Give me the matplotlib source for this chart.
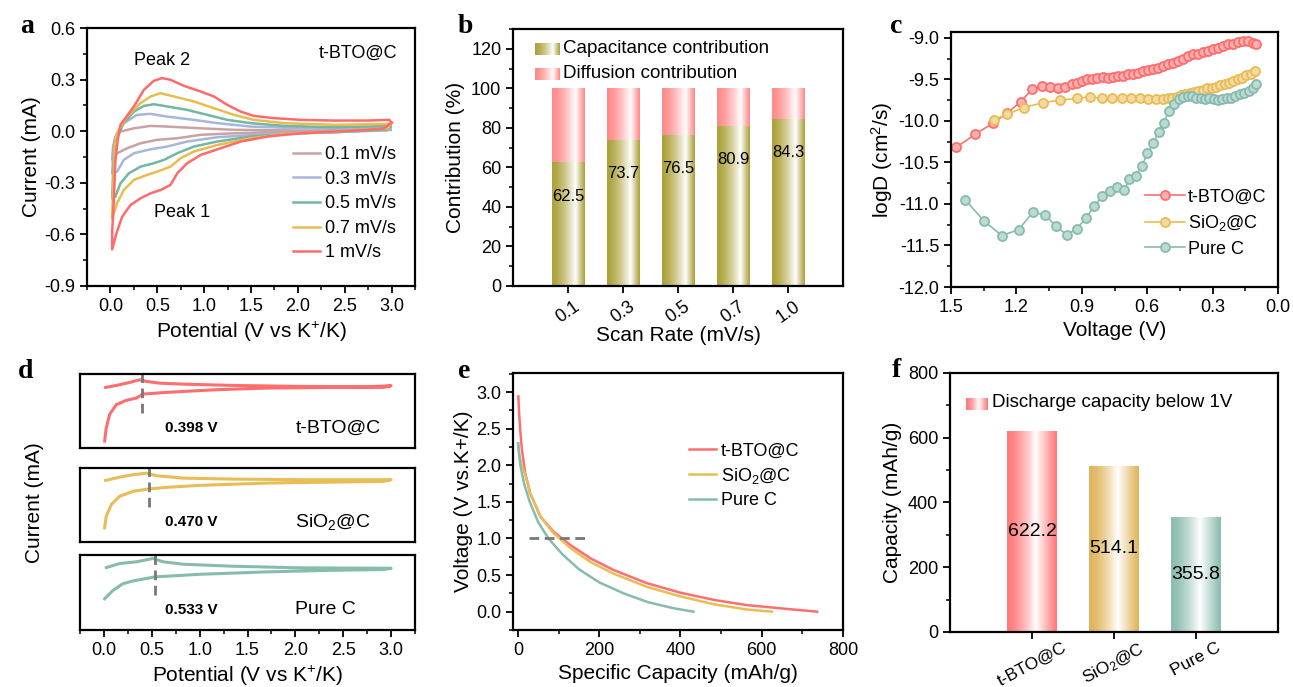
import numpy as np
import matplotlib
matplotlib.use("Agg")
import matplotlib.pyplot as plt
from matplotlib.colors import to_rgb
from matplotlib.ticker import MultipleLocator

plt.rcParams['font.family'] = ['Liberation Sans', 'DejaVu Sans']
plt.rcParams['mathtext.fontset'] = 'custom'
plt.rcParams['mathtext.rm'] = 'Liberation Sans'
plt.rcParams['mathtext.it'] = 'Liberation Sans:italic'
plt.rcParams['axes.unicode_minus'] = False
plt.rcParams['axes.linewidth'] = 1.6
plt.rcParams['xtick.major.width'] = 1.3
plt.rcParams['ytick.major.width'] = 1.3
plt.rcParams['xtick.minor.width'] = 1.1
plt.rcParams['ytick.minor.width'] = 1.1
plt.rcParams['xtick.major.size'] = 5
plt.rcParams['ytick.major.size'] = 5
plt.rcParams['xtick.minor.size'] = 3
plt.rcParams['ytick.minor.size'] = 3
plt.rcParams['xtick.labelsize'] = 13
plt.rcParams['ytick.labelsize'] = 13
plt.rcParams['axes.labelsize'] = 15

RED = '#ff6e6e'
YELLOW = '#e9bc55'
TEAL = '#86bcae'
OLIVE = '#aca23a'
PINK = '#ff8a8a'
CV_COLORS = ['#c9a2a3', '#a6b6dd', '#74b6a4', '#e8bd4f', '#ff6a6a']

# ---- a: CV curves of t-BTO@C at several scan rates (full loops) ----
cv_labels = ['0.1 mV/s', '0.3 mV/s', '0.5 mV/s', '0.7 mV/s', '1 mV/s']

cv_01_v = [2.99, 2.03, 1.318, 0.962, 0.712, 0.499, 0.321, 0.178, 0.071, 0.018,
           0.028, 0.053, 0.107, 0.25, 0.428, 0.605, 0.962, 1.318, 2.03, 2.99]
cv_01_i = [0.008, -0.004, -0.012, -0.021, -0.041, -0.05, -0.07, -0.099, -0.128, -0.167,
           -0.089, -0.04, -0.002, 0.017, 0.031, 0.027, 0.017, 0.008, 0.004, 0.008]

cv_03_v = [2.99, 2.95, 2.387, 1.674, 1.14, 0.819, 0.605, 0.428, 0.25, 0.142, 0.071, 0.018,
           0.028, 0.045, 0.053, 0.142, 0.285, 0.428, 0.605, 0.89, 1.14, 1.496, 2.03, 2.99]
cv_03_i = [0.017, 0.005, -0.006, -0.016, -0.035, -0.06, -0.089, -0.105, -0.128, -0.167, -0.235, -0.245,
           -0.147, -0.05, -0.031, 0.047, 0.095, 0.101, 0.085, 0.066, 0.047, 0.027, 0.017, 0.017]

cv_05_v = [2.99, 2.95, 2.387, 1.85, 1.496, 1.14, 0.89, 0.712, 0.57, 0.463, 0.321, 0.196, 0.107,
           0.053, 0.018, 0.028, 0.045, 0.142, 0.25, 0.356, 0.463, 0.605, 0.819, 1.033, 1.247,
           1.496, 1.85, 2.387, 2.99]
cv_05_i = [0.031, 0.01, -0.006, -0.016, -0.031, -0.06, -0.089, -0.128, -0.167, -0.186, -0.206, -0.245,
           -0.303, -0.38, -0.39, -0.245, -0.06, 0.047, 0.114, 0.147, 0.157, 0.144, 0.124, 0.095,
           0.066, 0.047, 0.031, 0.023, 0.031]

cv_07_v = [2.99, 2.96, 2.39, 1.85, 1.496, 1.14, 0.89, 0.748, 0.641, 0.499, 0.392, 0.25, 0.142,
           0.071, 0.018, 0.028, 0.046, 0.07, 0.178, 0.32, 0.428, 0.534, 0.677, 0.89, 1.104,
           1.318, 1.53, 1.85, 2.387, 2.99]
cv_07_i = [0.043, 0.017, -0.002, -0.016, -0.041, -0.08, -0.118, -0.157, -0.206, -0.235, -0.254,
           -0.283, -0.342, -0.419, -0.506, -0.322, -0.089, -0.01, 0.085, 0.163, 0.202, 0.221,
           0.202, 0.173, 0.134, 0.095, 0.066, 0.047, 0.037, 0.043]

cv_10_v = [3.0, 2.92, 2.74, 2.387, 2.03, 1.674, 1.39, 1.176, 0.962, 0.819, 0.712, 0.641, 0.534,
           0.428, 0.321, 0.214, 0.125, 0.064, 0.018, 0.018, 0.036, 0.053, 0.078, 0.107, 0.178,
           0.25, 0.356, 0.463, 0.552, 0.641, 0.784, 0.962, 1.104, 1.247, 1.39, 1.53, 1.746,
           2.03, 2.387, 2.743, 2.975, 3.0]
cv_10_i = [0.05, 0.017, 0.008, -0.002, -0.012, -0.031, -0.06, -0.099, -0.138, -0.186, -0.245,
           -0.312, -0.342, -0.361, -0.39, -0.429, -0.497, -0.594, -0.687, -0.594, -0.40, -0.167,
           -0.05, 0.037, 0.09, 0.144, 0.24, 0.293, 0.309, 0.299, 0.264, 0.231, 0.202, 0.153,
           0.114, 0.089, 0.076, 0.066, 0.062, 0.062, 0.066, 0.05]

# ---- b: capacitive share at each scan rate ----
scan_rates = ['0.1', '0.3', '0.5', '0.7', '1.0']
cap_share = [62.5, 73.7, 76.5, 80.9, 84.3]

# ---- c: GITT diffusion coefficients ----
bto_v = [1.477, 1.389, 1.309, 1.244, 1.181, 1.128, 1.083, 1.045, 1.010, 0.977,
         0.943, 0.920, 0.897, 0.874, 0.851, 0.828, 0.805, 0.782, 0.759, 0.736,
         0.713, 0.690, 0.667, 0.644, 0.621, 0.598, 0.575, 0.552, 0.529, 0.506,
         0.483, 0.460, 0.437, 0.414, 0.391, 0.368, 0.345, 0.322, 0.299, 0.276,
         0.253, 0.230, 0.207, 0.184, 0.161, 0.138, 0.115, 0.100]
bto_logd = [-10.32, -10.16, -10.03, -9.91, -9.77, -9.62, -9.58, -9.59, -9.60, -9.59,
            -9.56, -9.54, -9.52, -9.50, -9.49, -9.48, -9.47, -9.48, -9.47, -9.46,
            -9.46, -9.44, -9.43, -9.42, -9.40, -9.39, -9.38, -9.36, -9.34, -9.32,
            -9.30, -9.28, -9.25, -9.22, -9.20, -9.19, -9.17, -9.16, -9.14, -9.12,
            -9.10, -9.08, -9.07, -9.05, -9.04, -9.04, -9.06, -9.08]

sio_v = [1.305, 1.244, 1.167, 1.076, 1.000, 0.923, 0.862, 0.809, 0.760, 0.717,
         0.674, 0.633, 0.595, 0.560, 0.526, 0.505, 0.485, 0.465, 0.445, 0.425,
         0.405, 0.385, 0.365, 0.345, 0.325, 0.305, 0.285, 0.265, 0.245, 0.225,
         0.205, 0.185, 0.165, 0.145, 0.125, 0.107]
sio_logd = [-9.99, -9.92, -9.84, -9.78, -9.75, -9.73, -9.71, -9.73, -9.72, -9.73,
            -9.73, -9.73, -9.74, -9.74, -9.74, -9.73, -9.72, -9.71, -9.69, -9.68,
            -9.67, -9.65, -9.64, -9.63, -9.61, -9.60, -9.59, -9.57, -9.56, -9.54,
            -9.52, -9.50, -9.48, -9.45, -9.43, -9.40]

pc_v = [1.434, 1.347, 1.267, 1.190, 1.125, 1.068, 1.018, 0.969, 0.923, 0.882,
        0.842, 0.806, 0.771, 0.737, 0.705, 0.682, 0.652, 0.623, 0.600, 0.572,
        0.547, 0.524, 0.500, 0.478, 0.455, 0.435, 0.415, 0.395, 0.375, 0.355,
        0.335, 0.315, 0.295, 0.275, 0.255, 0.235, 0.215, 0.195, 0.175, 0.155,
        0.135, 0.115, 0.100]
pc_logd = [-10.95, -11.21, -11.38, -11.31, -11.10, -11.13, -11.27, -11.37, -11.30, -11.17,
           -11.03, -10.90, -10.84, -10.80, -10.83, -10.70, -10.66, -10.54, -10.39, -10.27,
           -10.13, -10.02, -9.88, -9.80, -9.74, -9.71, -9.70, -9.70, -9.72, -9.73,
           -9.74, -9.73, -9.74, -9.75, -9.74, -9.73, -9.72, -9.70, -9.68, -9.66,
           -9.64, -9.61, -9.56]

# ---- d: CV of each sample at a single rate ----
samples = ['t-BTO@C', 'SiO$_2$@C', 'Pure C']
peak_v = [0.398, 0.470, 0.533]

d_bto_v = [0.017, 0.129, 0.269, 0.374, 0.444, 0.583, 0.828, 1.352, 2.05, 2.75, 3.0,
           2.92, 2.4, 1.70, 1.177, 0.653, 0.409, 0.339, 0.234, 0.129, 0.059, 0.024, 0.007]
d_bto_i = [-0.01, 0.01, 0.04, 0.067, 0.05, 0.033, 0.023, 0.01, 0.0, -0.003, 0.007,
           -0.01, -0.01, -0.017, -0.033, -0.06, -0.077, -0.117, -0.14, -0.183, -0.283, -0.417, -0.55]
d_sio_v = [0.017, 0.164, 0.304, 0.444, 0.548, 0.828, 1.35, 2.05, 3.0,
           2.92, 2.4, 1.70, 1.0, 0.653, 0.46, 0.304, 0.164, 0.077, 0.024, 0.007]
d_sio_i = [0.0, 0.033, 0.057, 0.073, 0.047, 0.023, 0.013, 0.007, 0.007,
           -0.01, -0.017, -0.027, -0.05, -0.07, -0.087, -0.11, -0.16, -0.243, -0.36, -0.477]
d_pc_v = [0.024, 0.164, 0.339, 0.513, 0.618, 0.828, 1.35, 2.05, 3.0,
          2.92, 2.4, 1.70, 1.0, 0.53, 0.304, 0.199, 0.094, 0.007]
d_pc_i = [0.0, 0.04, 0.057, 0.09, 0.057, 0.033, 0.013, -0.003, -0.007,
          -0.02, -0.027, -0.043, -0.067, -0.093, -0.133, -0.16, -0.227, -0.31]

# ---- e: discharge profiles ----
e_bto_cap = [1, 3, 6, 10, 18, 30, 55, 88, 129, 178, 235, 317, 399, 483, 563, 646, 736]
e_bto_v = [2.94, 2.7, 2.45, 2.2, 1.89, 1.62, 1.30, 1.09, 0.91, 0.73, 0.57, 0.39, 0.26,
           0.16, 0.09, 0.046, 0.0]
e_sio_cap = [0.5, 3, 8, 18, 30, 55, 88, 129, 178, 235, 317, 399, 483, 563, 625]
e_sio_v = [2.3, 2.15, 2.02, 1.87, 1.62, 1.30, 1.07, 0.87, 0.68, 0.52, 0.34, 0.21, 0.10, 0.03, 0.0]
e_pc_cap = [0.5, 3, 6, 15, 29, 50, 75, 110, 150, 200, 260, 320, 380, 432]
e_pc_v = [2.3, 2.15, 2.0, 1.75, 1.5, 1.22, 1.0, 0.78, 0.58, 0.40, 0.25, 0.13, 0.05, 0.0]

# ---- f: discharge capacity below 1 V ----
cap_below_1v = [622.2, 514.1, 355.8]


def light(color, amount):
    """Blend a colour towards white."""
    base = np.array(to_rgb(color))
    return tuple(base * (1 - amount) + amount)


def gradient_strip(color, peak, n=96):
    """Horizontal colour -> white -> colour strip used to shade bars."""
    t = np.linspace(0, 1, n)
    w = np.where(t < peak, (t / peak) ** 1.5, ((1 - t) / (1 - peak)) ** 1.1)
    w = np.clip(w, 0, 0.97)
    base = np.array(to_rgb(color))
    rgb = base[None, :] * (1 - w[:, None]) + w[:, None]
    return rgb[None, :, :]


def shade_bars(ax, bars, color, peak):
    """Fill every bar patch with a gradient image clipped to the bar."""
    for patch in bars:
        x0, y0 = patch.get_xy()
        w, h = patch.get_width(), patch.get_height()
        im = ax.imshow(gradient_strip(color, peak), extent=[x0, x0 + w, y0, y0 + h],
                       aspect='auto', interpolation='bilinear', zorder=2)
        im.set_clip_path(patch)


def gradient_key(ax, rect, color, peak):
    """Small gradient swatch used as a legend key."""
    kax = ax.inset_axes(rect)
    kax.imshow(gradient_strip(color, peak), aspect='auto', interpolation='bilinear')
    kax.axis('off')


fig = plt.figure(figsize=(12.93, 6.87), dpi=100)

# panel letters
for letter, x, y in [('a', 20, 33), ('b', 458, 33), ('c', 890, 33),
                     ('d', 18, 378), ('e', 458, 378), ('f', 892, 377)]:
    fig.text(x / 1293, 1 - y / 687, letter, fontsize=20, fontweight='bold',
             family='Liberation Serif', ha='left', va='baseline')

# ---------------- a ----------------
ax = fig.add_axes([0.0673, 0.5837, 0.2537, 0.3755])
cv_sets = [(cv_01_v, cv_01_i), (cv_03_v, cv_03_i), (cv_05_v, cv_05_i),
           (cv_07_v, cv_07_i), (cv_10_v, cv_10_i)]
for (v, i), col, lab in zip(cv_sets, CV_COLORS, cv_labels):
    ax.plot(v, i, color=col, lw=1.8, label=lab)
ax.set_xlim(-0.25, 3.25)
ax.set_ylim(-0.9, 0.6)
ax.xaxis.set_major_locator(MultipleLocator(0.5))
ax.xaxis.set_minor_locator(MultipleLocator(0.25))
ax.yaxis.set_major_locator(MultipleLocator(0.3))
ax.yaxis.set_minor_locator(MultipleLocator(0.15))
ax.set_xlabel('Potential (V vs K$^{+}$/K)')
ax.set_ylabel('Current (mA)', labelpad=2)
ax.text(0.556, 0.414, 'Peak 2', fontsize=13, ha='center', va='center')
ax.text(0.76, -0.47, 'Peak 1', fontsize=13, ha='center', va='center')
ax.text(2.64, 0.455, 't-BTO@C', fontsize=13, ha='center', va='center')
ax.legend(loc='lower left', bbox_to_anchor=(0.6, 0.06), frameon=False, fontsize=13,
          handlelength=1.5, handletextpad=0.3, labelspacing=0.42, borderpad=0)

# ---------------- b ----------------
ax = fig.add_axes([0.3968, 0.5837, 0.2552, 0.3741])
pos = np.arange(1, len(scan_rates) + 1)
diff_share = [100 - c for c in cap_share]
cap_bars = ax.bar(pos, cap_share, width=0.6, facecolor='none', edgecolor='none')
diff_bars = ax.bar(pos, diff_share, width=0.6, bottom=cap_share,
                   facecolor='none', edgecolor='none')
shade_bars(ax, cap_bars, OLIVE, 0.72)
shade_bars(ax, diff_bars, PINK, 0.72)
for x, c in zip(pos, cap_share):
    ax.text(x, c - 17, f'{c:.1f}', ha='center', va='center', fontsize=12, zorder=3)
ax.set_xlim(0, 6)
ax.set_ylim(0, 130)
ax.set_xticks(pos)
ax.set_xticklabels(scan_rates, rotation=35, ha='center')
ax.yaxis.set_major_locator(MultipleLocator(20))
ax.yaxis.set_minor_locator(MultipleLocator(10))
ax.set_xlabel('Scan Rate (mV/s)', labelpad=0)
ax.set_ylabel('Contribution (%)')
gradient_key(ax, [0.067, 0.90, 0.073, 0.046], OLIVE, 0.72)
gradient_key(ax, [0.067, 0.803, 0.073, 0.046], PINK, 0.72)
ax.text(0.152, 0.925, 'Capacitance contribution', transform=ax.transAxes,
        fontsize=13.5, va='center')
ax.text(0.152, 0.828, 'Diffusion contribution', transform=ax.transAxes,
        fontsize=13.5, va='center')

# ---------------- c ----------------
ax = fig.add_axes([0.7355, 0.5822, 0.2529, 0.3712])
for v, d, col, lab in [(bto_v, bto_logd, RED, 't-BTO@C'),
                       (sio_v, sio_logd, YELLOW, 'SiO$_2$@C'),
                       (pc_v, pc_logd, TEAL, 'Pure C')]:
    ax.plot(v, d, '-o', color=col, lw=1.2, ms=6.5, mec=col, mew=1.3,
            mfc=light(col, 0.45), label=lab)
ax.set_xlim(1.5, 0.0)
ax.set_ylim(-12.0, -8.93)
ax.xaxis.set_major_locator(MultipleLocator(0.3))
ax.xaxis.set_minor_locator(MultipleLocator(0.15))
ax.yaxis.set_major_locator(MultipleLocator(0.5))
ax.yaxis.set_minor_locator(MultipleLocator(0.25))
ax.set_xlabel('Voltage (V)')
ax.set_ylabel('logD (cm$^2$/s)', labelpad=2)
ax.legend(loc='lower left', bbox_to_anchor=(0.565, 0.08), frameon=False, fontsize=13,
          numpoints=1, handlelength=2.2, handletextpad=0.2, labelspacing=0.42, borderpad=0)

# ---------------- d ----------------
d_boxes = [[0.0619, 0.3479, 0.2591, 0.1077],
           [0.0619, 0.2111, 0.2591, 0.1077],
           [0.0619, 0.0830, 0.2591, 0.1092]]
d_sets = [(d_bto_v, d_bto_i), (d_sio_v, d_sio_i), (d_pc_v, d_pc_i)]
for k, (rect, (v, i), col, name, pv) in enumerate(
        zip(d_boxes, d_sets, [RED, YELLOW, TEAL], samples, peak_v)):
    ax = fig.add_axes(rect)
    ax.plot(v, i, color=col, lw=2.2)
    ax.axvline(pv, ymin=0.47, ymax=1.07, color='#777777', lw=2.0,
               ls=(0, (3.5, 2)), clip_on=False)
    ax.text(0.636, 0.27, f'{pv:.3f} V', transform=ax.get_xaxis_transform(),
            fontsize=11, fontweight='bold', va='center', ha='left')
    ax.text(2.0, 0.27, name, transform=ax.get_xaxis_transform(),
            fontsize=14, va='center', ha='left')
    ax.set_xlim(-0.25, 3.25)
    ax.set_ylim(-0.62, 0.125)
    ax.set_yticks([])
    if k < 2:
        ax.set_xticks([])
    else:
        ax.xaxis.set_major_locator(MultipleLocator(0.5))
        ax.xaxis.set_minor_locator(MultipleLocator(0.25))
        ax.set_xlabel('Potential (V vs K$^{+}$/K)')
fig.text(0.027, 0.269, 'Current (mA)', rotation=90, fontsize=15, ha='center', va='center')

# ---------------- e ----------------
ax = fig.add_axes([0.3968, 0.0830, 0.2552, 0.3741])
ax.plot(e_bto_cap, e_bto_v, color=RED, lw=1.8, label='t-BTO@C')
ax.plot(e_sio_cap, e_sio_v, color=YELLOW, lw=1.8, label='SiO$_2$@C')
ax.plot(e_pc_cap, e_pc_v, color=TEAL, lw=1.8, label='Pure C')
ax.plot([26, 170], [1.0, 1.0], color='#777777', lw=2.0, ls=(0, (3.5, 2)))
ax.set_xlim(-12, 800)
ax.set_ylim(-0.25, 3.26)
ax.xaxis.set_major_locator(MultipleLocator(200))
ax.xaxis.set_minor_locator(MultipleLocator(100))
ax.yaxis.set_major_locator(MultipleLocator(0.5))
ax.yaxis.set_minor_locator(MultipleLocator(0.25))
ax.set_xlabel('Specific Capacity (mAh/g)')
ax.set_ylabel('Voltage (V vs.K+/K)', labelpad=2)
ax.legend(loc='upper left', bbox_to_anchor=(0.505, 0.765), frameon=False, fontsize=13,
          handlelength=1.5, handletextpad=0.3, labelspacing=0.35, borderpad=0)

# ---------------- f ----------------
ax = fig.add_axes([0.7347, 0.0801, 0.2537, 0.3770])
fpos = np.arange(1, len(samples) + 1)
for x, val, col in zip(fpos, cap_below_1v, ['#ff7a7a', '#e0b45a', '#8cbcb0']):
    bar = ax.bar([x], [val], width=0.6, facecolor='none', edgecolor='none')
    shade_bars(ax, bar, col, 0.58)
    ax.text(x, val / 2, f'{val:.1f}', ha='center', va='center', fontsize=14, zorder=3)
ax.set_xlim(0, 4)
ax.set_ylim(0, 800)
ax.set_xticks(fpos)
ax.set_xticklabels(samples, rotation=28, ha='center', fontsize=12.5)
ax.tick_params(axis='x', pad=1)
ax.yaxis.set_major_locator(MultipleLocator(200))
ax.yaxis.set_minor_locator(MultipleLocator(100))
ax.set_ylabel('Capacity (mAh/g)')
gradient_key(ax, [0.049, 0.857, 0.067, 0.046], '#ff7a7a', 0.58)
ax.text(0.128, 0.885, 'Discharge capacity below 1V', transform=ax.transAxes,
        fontsize=13.5, va='center')

fig.savefig('out.png', dpi=100)
